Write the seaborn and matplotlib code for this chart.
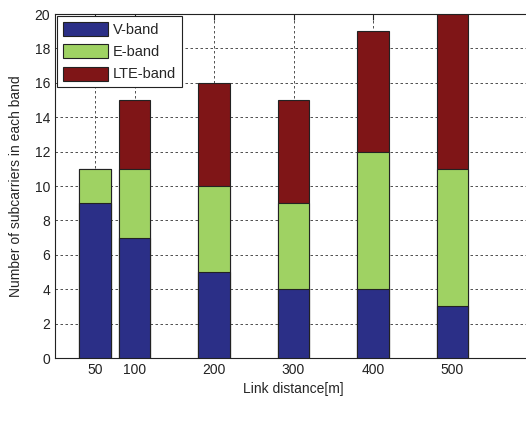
import matplotlib
matplotlib.use("Agg")
import pandas as pd
import matplotlib.pyplot as plt
import seaborn as sns
from matplotlib.patches import Patch

# 데이터
distance = [50, 100, 200, 300, 400, 500]
v_band = [9, 7, 5, 4, 4, 3]
e_band = [2, 4, 5, 5, 8, 8]
lte_band = [0, 4, 6, 6, 7, 9]
bands = ["V-band", "E-band", "LTE-band"]
colors = ["#2b2f87", "#9fd263", "#7f1517"]

df = pd.DataFrame({"distance": distance, "V-band": v_band,
                   "E-band": e_band, "LTE-band": lte_band})
# 누적값 (stacked bar)
df["top_v"] = df["V-band"]
df["top_e"] = df["top_v"] + df["E-band"]
df["top_lte"] = df["top_e"] + df["LTE-band"]

sns.set_style("white")
plt.rcParams['font.family'] = ['Liberation Sans', 'DejaVu Sans']

fig = plt.figure(figsize=(5.26, 4.25), dpi=100)
ax = fig.add_axes([55 / 526, (425 - 358) / 425, 477 / 526, 344 / 425])

for col, c in zip(["top_lte", "top_e", "top_v"], colors[::-1]):
    sns.barplot(data=df, x="distance", y=col, native_scale=True, color=c,
                edgecolor="#222222", linewidth=0.8, saturation=1, ax=ax,
                zorder=3)

ax.set_xlim(0, 600)
ax.set_ylim(0, 20)
ax.set_xticks(distance)
ax.set_yticks(range(0, 21, 2))
ax.grid(True, color="#333333", linestyle=(0, (3, 3)), linewidth=0.6, zorder=0)
ax.set_axisbelow(True)
ax.tick_params(direction="in", length=4, labelsize=10, colors="#222222",
               top=True, right=False)
for s in ax.spines.values():
    s.set_color("#222222")
    s.set_linewidth(0.8)
ax.spines["right"].set_visible(False)

ax.set_xlabel("Link distance[m]", fontsize=10, labelpad=4)
ax.set_ylabel("Number of subcarriers in each band", fontsize=10, labelpad=8)

handles = [Patch(facecolor=c, edgecolor="#222222", linewidth=0.8, label=b)
           for b, c in zip(bands, colors)]
leg = ax.legend(handles=handles, loc="upper left", fancybox=False,
                edgecolor="#222222", fontsize=10.5, handlelength=3.1,
                handleheight=1.1, handletextpad=0.3, labelspacing=0.5,
                borderpad=0.4, borderaxespad=0.15, framealpha=1)
leg.get_frame().set_linewidth(0.8)

fig.savefig("out.png", dpi=100)
